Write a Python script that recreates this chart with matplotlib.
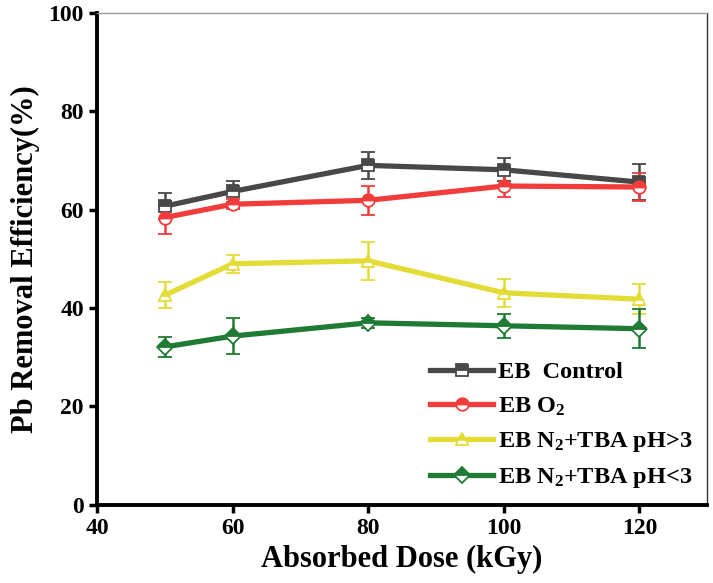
import matplotlib
matplotlib.use('Agg')
import matplotlib.pyplot as plt

plt.rcParams['font.family'] = ['Liberation Serif', 'DejaVu Serif']
plt.rcParams['font.weight'] = 'bold'
plt.rcParams['mathtext.fontset'] = 'custom'
plt.rcParams['mathtext.rm'] = 'Liberation Serif:bold'
plt.rcParams['mathtext.bf'] = 'Liberation Serif:bold'
plt.rcParams['mathtext.it'] = 'Liberation Serif:bold'

dose = [50, 60, 80, 100, 120]

control = [60.7, 63.7, 69.0, 68.1, 65.6]
control_err = [2.7, 2.1, 2.8, 2.3, 3.6]
o2 = [58.4, 61.1, 61.9, 64.8, 64.6]
o2_err = [3.3, 1.0, 2.9, 2.3, 2.9]
n2_hi = [42.6, 49.0, 49.6, 43.1, 41.8]
n2_hi_err = [2.6, 1.8, 3.9, 2.8, 3.0]
n2_lo = [32.1, 34.3, 37.0, 36.4, 35.8]
n2_lo_err = [2.0, 3.6, 1.0, 2.4, 4.0]

labels = ['EB  Control', 'EB O$_2$', 'EB N$_2$+TBA pH>3', 'EB N$_2$+TBA pH<3']
colors = ['#484848', '#f23c3c', '#e4dc36', '#1f7a33']
markers = ['s', 'o', '^', 'D']

fig = plt.figure(figsize=(7.13, 5.83), dpi=100)
ax = fig.add_axes([0.136, 0.134, 0.856, 0.844])

series = [(control, control_err), (o2, o2_err), (n2_hi, n2_hi_err), (n2_lo, n2_lo_err)]
handles = []
for (y, e), lab, c, m in zip(series, labels, colors, markers):
    cont = ax.errorbar(dose, y, yerr=e, color=c, lw=3.8, marker=m,
                       markersize=9 if m != 'D' else 8, fillstyle='top',
                       markerfacecoloralt='white', markeredgewidth=1.3,
                       elinewidth=1.8, capsize=5, capthick=1.8)
    cont[0].set_label(lab)
    handles.append(cont[0])

ax.set_xlim(40, 130)
ax.set_ylim(0, 100)
ax.set_xticks([40, 60, 80, 100, 120])
ax.set_yticks([0, 20, 40, 60, 80, 100])
ax.tick_params(axis='both', which='major', labelsize=17, width=2.5, length=6,
               direction='out', top=False, right=False)
for lab in ax.get_xticklabels() + ax.get_yticklabels():
    lab.set_fontweight('bold')

ax.spines['left'].set_linewidth(2.8)
ax.spines['bottom'].set_linewidth(2.8)
ax.spines['top'].set_linewidth(1.0)
ax.spines['right'].set_linewidth(1.0)
ax.spines['top'].set_color('#999999')
ax.spines['right'].set_color('#333333')

ax.set_xlabel('Absorbed Dose (kGy)', fontsize=22, fontweight='bold', labelpad=4)
ax.set_ylabel('Pb Removal Efficiency(%)', fontsize=22, fontweight='bold', labelpad=6)

leg = ax.legend(handles=handles, loc='lower right', frameon=False, fontsize=17.5,
                handlelength=2.6, handletextpad=0.2, labelspacing=0.5,
                borderaxespad=0.2, bbox_to_anchor=(1.0, 0.0))

fig.savefig('out.png', dpi=100)
